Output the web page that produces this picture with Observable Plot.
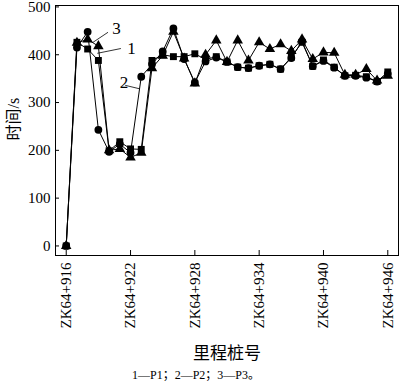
<!DOCTYPE html>
<html>
<head>
<meta charset="utf-8">
<script src="https://cdn.jsdelivr.net/npm/d3@7"></script>
<script src="https://cdn.jsdelivr.net/npm/@observablehq/plot@0.6"></script>
<style>
  body { margin: 0; background: #fff; }
  #chart svg { display: block; }
  #caption { font-family: "Liberation Serif", "Noto Sans CJK SC", serif; font-size: 12px; text-align: center; padding-right: 8px; line-height: 14px; color: #000; }
</style>
</head>
<body>
<div id="chart"></div>
<div id="caption">1—P1；2—P2；3—P3。</div>
<script>
const stations = [916,917,918,919,920,921,922,923,924,925,926,927,928,929,930,931,932,933,934,935,936,937,938,939,940,941,942,943,944,945,946];
const p1 = [0,426,412,388,199,218,203,202,388,400,396,396,402,390,396,385,374,372,377,380,370,395,426,376,389,374,356,357,354,344,364];
const p2 = [0,415,448,243,197,213,195,354,380,407,455,391,342,386,394,385,374,372,377,380,370,393,428,376,387,373,356,356,352,344,360];
const p3 = [0,425,432,418,200,203,185,195,372,398,448,392,340,400,430,385,430,388,426,412,422,408,432,391,405,404,358,358,370,346,356];
const xTicks = [916,922,928,934,940,946];
const yTicks = [0,100,200,300,400,500];
const seriesNames = ["P1","P2","P3"];
const seriesSymbols = ["square","circle","triangle"];
const labelNums = ["1","2","3"];
// annotation label positions (data units) and leader lines
const labelX = [921.7, 921.0, 920.3];
const labelY = [413, 342, 455];
const leadX1 = [921.1, 921.5, 919.9];
const leadY1 = [413, 336, 447];
const leadX2 = [918.9, 922.8, 918.5];
const leadY2 = [403, 329, 426];

const table = [];
[p1, p2, p3].forEach((vals, si) => {
  stations.forEach((s, i) => table.push({station: s, value: vals[i], series: seriesNames[si], symbol: seriesSymbols[si]}));
});
const labels = labelNums.map((t, i) => ({t, x: labelX[i], y: labelY[i], x1: leadX1[i], y1: leadY1[i], x2: leadX2[i], y2: leadY2[i]}));

const font = '"Liberation Serif", "Noto Sans CJK SC", serif';

const chart = Plot.plot({
  width: 400,
  height: 368,
  marginLeft: 55,
  marginRight: 2,
  marginTop: 5,
  marginBottom: 113,
  style: {fontFamily: font, fontSize: "15px", color: "#000", background: "#fff"},
  x: {domain: [915, 947]},
  y: {domain: [-20, 503]},
  marks: [
    Plot.frame({stroke: "#000", strokeWidth: 1}),
    Plot.axisX(xTicks, {tickFormat: d => "ZK64+" + d, tickRotate: -90, tickSize: -5, tickPadding: 12, fontSize: 15, label: null}),
    Plot.axisY(yTicks, {tickSize: -4, tickPadding: 9, fontSize: 15, label: null}),
    Plot.text(["时间/s"], {frameAnchor: "left", rotate: -90, dx: -42, dy: 10, fontSize: 16}),
    Plot.text(["里程桩号"], {frameAnchor: "bottom", dy: 103, fontSize: 17}),
    Plot.line(table, {x: "station", y: "value", z: "series", stroke: "#000", strokeWidth: 1}),
    Plot.dot(table, {x: "station", y: "value", symbol: "symbol", fill: "#000", r: 3.9}),
    Plot.link(labels, {x1: "x1", y1: "y1", x2: "x2", y2: "y2", stroke: "#000", strokeWidth: 0.8}),
    Plot.text(labels, {x: "x", y: "y", text: "t", fontSize: 17, textAnchor: "start"})
  ],
  symbol: {domain: ["square","circle","triangle"], range: ["square","circle","triangle"]}
});
document.getElementById("chart").appendChild(chart);
</script>
</body>
</html>
